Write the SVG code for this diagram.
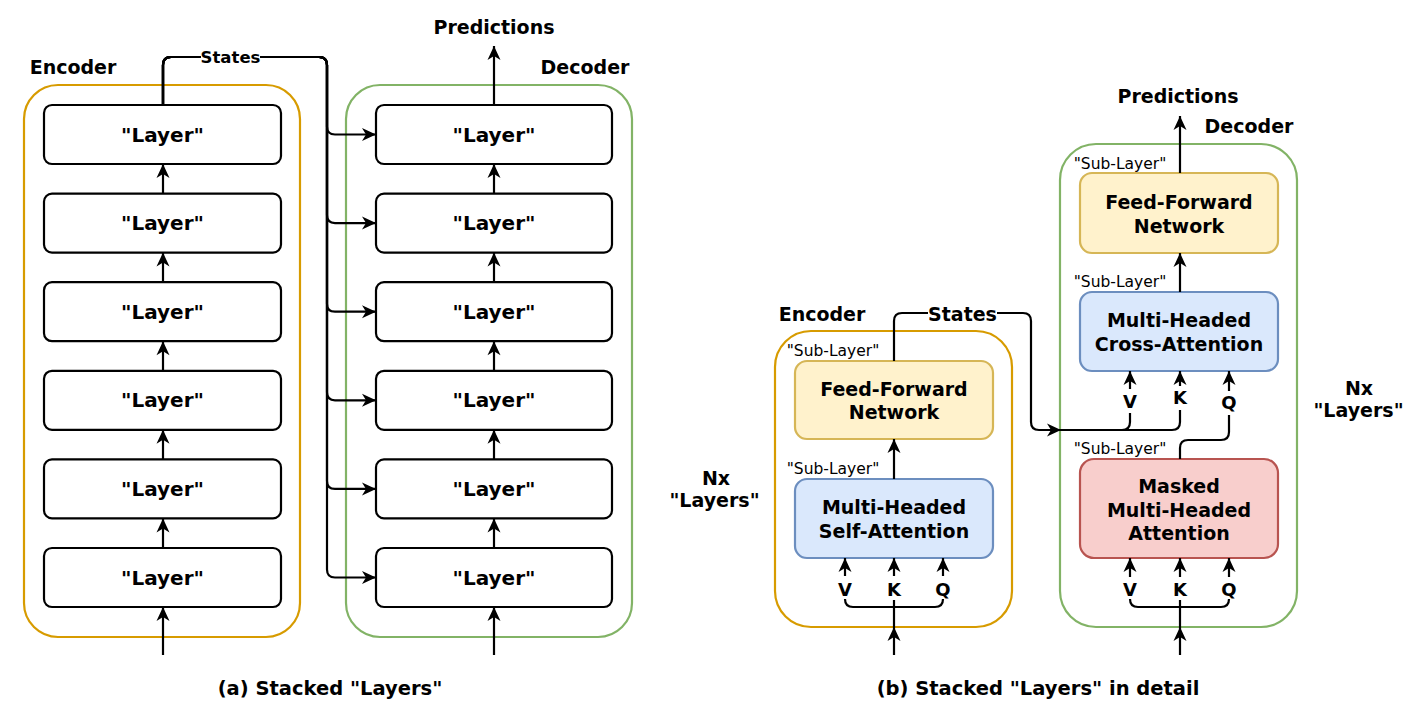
<svg xmlns="http://www.w3.org/2000/svg" width="1426" height="711" viewBox="0 0 1426 711">
<defs>
<style>
text{font-family:"DejaVu Sans","Liberation Sans",sans-serif;fill:#000}
.b{font-weight:bold}
.t19{font-size:19px}
.t20{font-size:20px}
.t18{font-size:18px}
.sub{font-size:15.5px}
.enc{fill:none;stroke:#d79b00;stroke-width:2.2}
.dec{fill:none;stroke:#82b366;stroke-width:2.2}
.layer{fill:#fff;stroke:#000;stroke-width:2.2}
.ffn{fill:#fff2cc;stroke:#d6b656;stroke-width:2.2}
.att{fill:#dae8fc;stroke:#6c8ebf;stroke-width:2.2}
.mask{fill:#f8cecc;stroke:#b85450;stroke-width:2.2}
.e{fill:none;stroke:#000;stroke-width:2.2}
.a{marker-end:url(#arr)}
</style>
<marker id="arr" markerWidth="16" markerHeight="14" refX="14.5" refY="7" orient="auto" markerUnits="userSpaceOnUse">
<path d="M0.5,0.5 L14.5,7 L0.5,13.5 L4.5,7 Z" fill="#000"/>
</marker>
</defs>
<rect width="1426" height="711" fill="#fff"/>

<!-- ===== Panel (a) ===== -->
<g id="a-encoder">
<rect class="enc" x="24" y="85" width="276" height="552" rx="34"/>
<text class="b t19" x="73" y="74" text-anchor="middle">Encoder</text>
</g>
<g id="a-decoder">
<rect class="dec" x="346" y="85" width="286" height="552" rx="34"/>
<text class="b t19" x="585" y="74" text-anchor="middle">Decoder</text>
</g>
<g id="a-enc-layers">
<rect class="layer" x="44" y="105" width="237" height="59" rx="8"/>
<text class="b t20" x="162.5" y="141.5" text-anchor="middle">"Layer"</text>
<rect class="layer" x="44" y="193.6" width="237" height="59" rx="8"/>
<text class="b t20" x="162.5" y="230.1" text-anchor="middle">"Layer"</text>
<rect class="layer" x="44" y="282.2" width="237" height="59" rx="8"/>
<text class="b t20" x="162.5" y="318.7" text-anchor="middle">"Layer"</text>
<rect class="layer" x="44" y="370.8" width="237" height="59" rx="8"/>
<text class="b t20" x="162.5" y="407.3" text-anchor="middle">"Layer"</text>
<rect class="layer" x="44" y="459.4" width="237" height="59" rx="8"/>
<text class="b t20" x="162.5" y="495.9" text-anchor="middle">"Layer"</text>
<rect class="layer" x="44" y="548" width="237" height="59" rx="8"/>
<text class="b t20" x="162.5" y="584.5" text-anchor="middle">"Layer"</text>
</g>
<g id="a-dec-layers">
<rect class="layer" x="376" y="105" width="236" height="59" rx="8"/>
<text class="b t20" x="494" y="141.5" text-anchor="middle">"Layer"</text>
<rect class="layer" x="376" y="193.6" width="236" height="59" rx="8"/>
<text class="b t20" x="494" y="230.1" text-anchor="middle">"Layer"</text>
<rect class="layer" x="376" y="282.2" width="236" height="59" rx="8"/>
<text class="b t20" x="494" y="318.7" text-anchor="middle">"Layer"</text>
<rect class="layer" x="376" y="370.8" width="236" height="59" rx="8"/>
<text class="b t20" x="494" y="407.3" text-anchor="middle">"Layer"</text>
<rect class="layer" x="376" y="459.4" width="236" height="59" rx="8"/>
<text class="b t20" x="494" y="495.9" text-anchor="middle">"Layer"</text>
<rect class="layer" x="376" y="548" width="236" height="59" rx="8"/>
<text class="b t20" x="494" y="584.5" text-anchor="middle">"Layer"</text>
</g>
<g id="a-predictions">
<text class="b t19" x="494" y="34" text-anchor="middle">Predictions</text>
</g>

<g id="a-connectors">
<path class="e a" d="M163,655 V607"/>
<path class="e a" d="M163,548 V518.4"/>
<path class="e a" d="M163,459.4 V429.8"/>
<path class="e a" d="M163,370.8 V341.2"/>
<path class="e a" d="M163,282.2 V252.6"/>
<path class="e a" d="M163,193.6 V164"/>
<path class="e a" d="M494,655 V607"/>
<path class="e a" d="M494,548 V518.4"/>
<path class="e a" d="M494,459.4 V429.8"/>
<path class="e a" d="M494,370.8 V341.2"/>
<path class="e a" d="M494,282.2 V252.6"/>
<path class="e a" d="M494,193.6 V164"/>
<path class="e a" d="M494,105 V46"/>
<path class="e a" d="M163,105 V65 Q163,57 171,57 H319 Q327,57 327,65 V126.5 Q327,134.5 335,134.5 H376"/>
<path class="e a" d="M163,105 V65 Q163,57 171,57 H319 Q327,57 327,65 V215.1 Q327,223.1 335,223.1 H376"/>
<path class="e a" d="M163,105 V65 Q163,57 171,57 H319 Q327,57 327,65 V303.7 Q327,311.7 335,311.7 H376"/>
<path class="e a" d="M163,105 V65 Q163,57 171,57 H319 Q327,57 327,65 V392.3 Q327,400.3 335,400.3 H376"/>
<path class="e a" d="M163,105 V65 Q163,57 171,57 H319 Q327,57 327,65 V480.9 Q327,488.9 335,488.9 H376"/>
<path class="e a" d="M163,105 V65 Q163,57 171,57 H319 Q327,57 327,65 V569.5 Q327,577.5 335,577.5 H376"/>
<rect x="201" y="47" width="59" height="19" fill="#fff"/>
<text class="b" style="font-size:16.5px" x="230.5" y="63" text-anchor="middle">States</text>
</g>

<text class="b" style="font-size:19.5px" x="330" y="695" text-anchor="middle">(a) Stacked "Layers"</text>

<!-- ===== Panel (b) ===== -->
<g id="b-encoder">
<rect class="enc" x="775" y="331" width="237" height="296" rx="36"/>
<text class="b t19" x="822" y="321" text-anchor="middle">Encoder</text>
</g>
<g id="b-nx-left">
<text class="b t19" x="716" y="485" text-anchor="middle">Nx</text>
<text class="b t19" x="714.5" y="507" text-anchor="middle">"Layers"</text>
</g>
<g id="b-enc-ffn">
<text class="sub" x="833" y="356" text-anchor="middle">"Sub-Layer"</text>
<rect class="ffn" x="795" y="361" width="198" height="78" rx="12"/>
<text class="b t19" x="894" y="396" text-anchor="middle">Feed-Forward</text>
<text class="b t19" x="894" y="419" text-anchor="middle">Network</text>
</g>
<g id="b-enc-mhsa">
<text class="sub" x="833" y="474" text-anchor="middle">"Sub-Layer"</text>
<rect class="att" x="795" y="479" width="198" height="79" rx="12"/>
<text class="b t19" x="894" y="514" text-anchor="middle">Multi-Headed</text>
<text class="b t19" x="894" y="538" text-anchor="middle">Self-Attention</text>
</g>
<g id="b-enc-vkq">
<text class="b t18" x="845" y="596" text-anchor="middle">V</text>
<text class="b t18" x="894" y="596" text-anchor="middle">K</text>
<text class="b t18" x="943" y="596" text-anchor="middle">Q</text>
</g>

<g id="b-decoder">
<rect class="dec" x="1060" y="144" width="237" height="483" rx="36"/>
<text class="b t19" x="1249" y="133" text-anchor="middle">Decoder</text>
<text class="b t19" x="1178" y="103" text-anchor="middle">Predictions</text>
</g>
<g id="b-nx-right">
<text class="b t19" x="1359" y="395" text-anchor="middle">Nx</text>
<text class="b t19" x="1358.5" y="417" text-anchor="middle">"Layers"</text>
</g>
<g id="b-dec-ffn">
<text class="sub" x="1120" y="169" text-anchor="middle">"Sub-Layer"</text>
<rect class="ffn" x="1080" y="173" width="198" height="80" rx="12"/>
<text class="b t19" x="1179" y="209" text-anchor="middle">Feed-Forward</text>
<text class="b t19" x="1179" y="232.5" text-anchor="middle">Network</text>
</g>
<g id="b-dec-cross">
<text class="sub" x="1120" y="287" text-anchor="middle">"Sub-Layer"</text>
<rect class="att" x="1080" y="292" width="198" height="79" rx="12"/>
<text class="b t19" x="1179" y="327" text-anchor="middle">Multi-Headed</text>
<text class="b t19" x="1179" y="350.5" text-anchor="middle">Cross-Attention</text>
</g>
<g id="b-dec-cross-vkq">
<text class="b t18" x="1130" y="408" text-anchor="middle">V</text>
<text class="b t18" x="1180" y="404" text-anchor="middle">K</text>
<text class="b t18" x="1229" y="409" text-anchor="middle">Q</text>
</g>
<g id="b-dec-masked">
<text class="sub" x="1120" y="454" text-anchor="middle">"Sub-Layer"</text>
<rect class="mask" x="1080" y="459" width="198" height="99" rx="14"/>
<text class="b t19" x="1179" y="493" text-anchor="middle">Masked</text>
<text class="b t19" x="1179" y="516.5" text-anchor="middle">Multi-Headed</text>
<text class="b t19" x="1179" y="540" text-anchor="middle">Attention</text>
</g>
<g id="b-dec-masked-vkq">
<text class="b t18" x="1130" y="596" text-anchor="middle">V</text>
<text class="b t18" x="1180" y="596" text-anchor="middle">K</text>
<text class="b t18" x="1229" y="596" text-anchor="middle">Q</text>
</g>

<g id="b-connectors">
<!-- encoder inputs -->
<path class="e a" d="M894,655 V627"/>
<path class="e" d="M894,627 V600"/>
<path class="e" d="M845,599 Q845,607 853,607 H935 Q943,607 943,599"/>
<path class="e a" d="M845,576 V558"/>
<path class="e a" d="M894,576 V558"/>
<path class="e a" d="M943,576 V558"/>
<path class="e a" d="M894,479 V439"/>
<!-- states -->
<path class="e a" d="M894,361 V321 Q894,313 902,313 H1023 Q1031,313 1031,321 V422 Q1031,430 1039,430 H1061"/>
<rect x="928" y="303" width="69" height="20" fill="#fff"/>
<text class="b t19" x="962.5" y="321" text-anchor="middle">States</text>
<path class="e" d="M1061,430 H1122 Q1130,430 1130,422 V413"/>
<path class="e" d="M1061,430 H1172 Q1180,430 1180,422 V410"/>
<path class="e" d="M1180,459 V448 Q1180,440 1188,440 H1221 Q1229,440 1229,432 V415"/>
<!-- cross attention inputs -->
<path class="e a" d="M1130,389 V371"/>
<path class="e a" d="M1180,386 V371"/>
<path class="e a" d="M1229,391 V371"/>
<path class="e a" d="M1180,292 V253"/>
<path class="e a" d="M1180,173 V116"/>
<!-- masked inputs -->
<path class="e a" d="M1180,655 V627"/>
<path class="e" d="M1180,627 V600"/>
<path class="e" d="M1130,599 Q1130,607 1138,607 H1221 Q1229,607 1229,599"/>
<path class="e a" d="M1130,577 V558"/>
<path class="e a" d="M1180,577 V558"/>
<path class="e a" d="M1229,577 V558"/>
</g>

<text class="b" style="font-size:19.5px" x="1038" y="695" text-anchor="middle">(b) Stacked "Layers" in detail</text>
</svg>
